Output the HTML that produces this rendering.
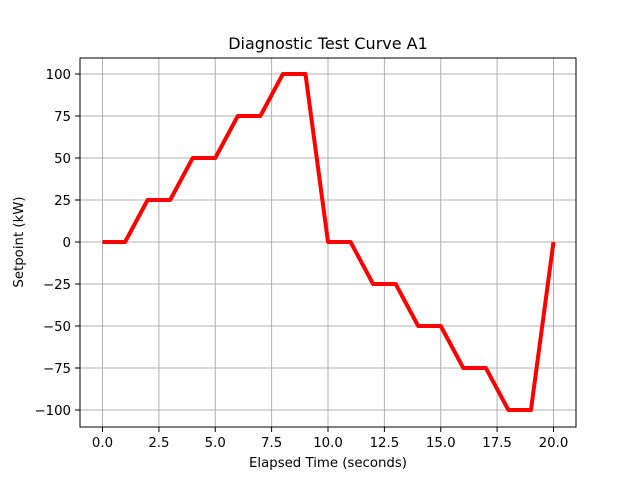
<!DOCTYPE html>
<html><head><style>body{margin:0;background:#fff}svg{display:block}text{font-family:"DejaVu Sans","Liberation Sans",sans-serif;fill:#000}</style></head><body>
<svg width="640" height="480" viewBox="0 0 640 480" xmlns="http://www.w3.org/2000/svg">
<rect width="640" height="480" fill="#fff"/>
<g stroke="#b0b0b0" stroke-width="1">
<line x1="102.5" y1="58" x2="102.5" y2="427"/><line x1="158.9" y1="58" x2="158.9" y2="427"/><line x1="215.25" y1="58" x2="215.25" y2="427"/><line x1="271.6" y1="58" x2="271.6" y2="427"/><line x1="328" y1="58" x2="328" y2="427"/><line x1="384.4" y1="58" x2="384.4" y2="427"/><line x1="440.75" y1="58" x2="440.75" y2="427"/><line x1="497.1" y1="58" x2="497.1" y2="427"/><line x1="553.5" y1="58" x2="553.5" y2="427"/>
<line x1="80" y1="74" x2="576" y2="74"/><line x1="80" y1="116" x2="576" y2="116"/><line x1="80" y1="158" x2="576" y2="158"/><line x1="80" y1="200" x2="576" y2="200"/><line x1="80" y1="242" x2="576" y2="242"/><line x1="80" y1="284" x2="576" y2="284"/><line x1="80" y1="326" x2="576" y2="326"/><line x1="80" y1="368" x2="576" y2="368"/><line x1="80" y1="410" x2="576" y2="410"/>
</g>
<polyline fill="none" stroke="#ff0000" stroke-width="4" stroke-linejoin="round" points="102.5,242 125.05,242 147.6,200 170.15,200 192.7,158 215.25,158 237.8,116 260.35,116 282.9,74 305.45,74 328,242 350.55,242 373.1,284 395.65,284 418.2,326 440.75,326 463.3,368 485.85,368 508.4,410 530.95,410 553.5,242"/>
<rect x="80" y="58" width="496" height="369" fill="none" stroke="#000" stroke-width="1"/>
<g stroke="#000" stroke-width="1">
<line x1="102.5" y1="427" x2="102.5" y2="432"/><line x1="158.9" y1="427" x2="158.9" y2="432"/><line x1="215.25" y1="427" x2="215.25" y2="432"/><line x1="271.6" y1="427" x2="271.6" y2="432"/><line x1="328" y1="427" x2="328" y2="432"/><line x1="384.4" y1="427" x2="384.4" y2="432"/><line x1="440.75" y1="427" x2="440.75" y2="432"/><line x1="497.1" y1="427" x2="497.1" y2="432"/><line x1="553.5" y1="427" x2="553.5" y2="432"/>
<line x1="75" y1="74" x2="80" y2="74"/><line x1="75" y1="116" x2="80" y2="116"/><line x1="75" y1="158" x2="80" y2="158"/><line x1="75" y1="200" x2="80" y2="200"/><line x1="75" y1="242" x2="80" y2="242"/><line x1="75" y1="284" x2="80" y2="284"/><line x1="75" y1="326" x2="80" y2="326"/><line x1="75" y1="368" x2="80" y2="368"/><line x1="75" y1="410" x2="80" y2="410"/>
</g>
<g font-size="13.3" text-anchor="middle">
<text x="102.5" y="447">0.0</text><text x="158.9" y="447">2.5</text><text x="215.25" y="447">5.0</text><text x="271.6" y="447">7.5</text><text x="328" y="447">10.0</text><text x="384.4" y="447">12.5</text><text x="440.75" y="447">15.0</text><text x="497.1" y="447">17.5</text><text x="553.5" y="447">20.0</text>
</g>
<g font-size="13.3" text-anchor="end">
<text x="71" y="79">100</text><text x="71" y="121">75</text><text x="71" y="163">50</text><text x="71" y="205">25</text><text x="71" y="247">0</text><text x="71" y="289">−25</text><text x="71" y="331">−50</text><text x="71" y="373">−75</text><text x="71" y="415">−100</text>
</g>
<text x="328" y="467" font-size="13.3" text-anchor="middle">Elapsed Time (seconds)</text>
<text x="23" y="242" font-size="13.3" text-anchor="middle" transform="rotate(-90 23 242)">Setpoint (kW)</text>
<text x="328" y="49" font-size="16" text-anchor="middle">Diagnostic Test Curve A1</text>
</svg>
</body></html>
